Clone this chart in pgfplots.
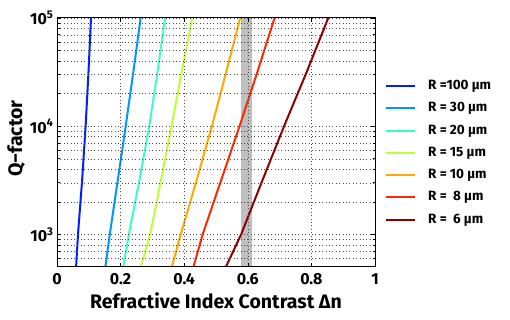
\documentclass[border=0pt]{standalone}
\usepackage{fontspec}
\setmainfont{Fira Sans}
\usepackage{pgfplots}
\pgfplotsset{compat=1.18}
\definecolor{cA}{RGB}{0,30,255}
\definecolor{cB}{RGB}{0,150,255}
\definecolor{cC}{RGB}{60,255,200}
\definecolor{cD}{RGB}{190,255,60}
\definecolor{cE}{RGB}{255,170,0}
\definecolor{cF}{RGB}{255,40,0}
\definecolor{cG}{RGB}{140,0,0}
\begin{document}
\begin{tikzpicture}
\begin{axis}[
    name=ax, scale only axis, width=318pt, height=249pt, at={(0pt,0pt)}, anchor=south west,
    xmin=0, xmax=1, ymin=500, ymax=1e5, ymode=log,
    xtick={0,0.2,0.4,0.6,0.8,1}, xticklabels={0,0.2,0.4,0.6,0.8,1},
    ytick={1000,10000,100000},
    yticklabels={10\textsuperscript{3},10\textsuperscript{4},10\textsuperscript{5}},
    minor ytick={600,700,800,900,2000,3000,4000,5000,6000,7000,8000,9000,20000,30000,40000,50000,60000,70000,80000,90000},
    grid=both,
    major grid style={black!70, line width=0.5pt, dash pattern=on 0.8pt off 2.6pt},
    minor grid style={black!70, line width=0.5pt, dash pattern=on 0.8pt off 2.6pt},
    tick align=inside, major tick length=4pt, minor tick length=2.5pt,
    tick style={black, line width=0.6pt},
    axis line style={line width=1pt},
    axis on top,
    tick label style={font=\fontsize{16}{16}\selectfont\bfseries},
    xticklabel style={yshift=-3pt},
    xlabel={Refractive Index Contrast Δn},
    ylabel={Q−factor},
    label style={font=\fontsize{19.5}{20}\selectfont\bfseries},
    xlabel style={yshift=-1pt},
    ylabel style={yshift=-2pt, xshift=4pt},
    every axis plot/.append style={line width=2pt, line join=round},
    legend cell align=left,
    legend style={draw=none, fill=none, inner sep=0pt, at={(1.03,0.754)}, anchor=north west,
        font=\fontsize{13.5}{13.5}\selectfont\bfseries,
        nodes={inner sep=0pt, text height=10pt, text depth=3pt},
        row sep=9.3pt,
        /tikz/every odd column/.append style={column sep=12.5pt}},
    legend image code/.code={\draw[#1] (0pt,0pt) -- (29pt,0pt);},
]
\addplot[fill=black!25, draw=none, forget plot] coordinates {(0.580,500) (0.580,100000) (0.612,100000) (0.612,500)} -- cycle;
\addplot[cA] coordinates {(0.060,500) (0.066,1000) (0.079,3162) (0.090,10000) (0.099,31623) (0.107,100000)};
\addlegendentry{R =100 µm}
\addplot[cB] coordinates {(0.152,500) (0.166,1000) (0.191,3162) (0.216,10000) (0.240,31623) (0.263,100000)};
\addlegendentry{R = 30 µm}
\addplot[cC] coordinates {(0.208,500) (0.226,1000) (0.259,3162) (0.290,10000) (0.316,31623) (0.340,100000)};
\addlegendentry{R = 20 µm}
\addplot[cD] coordinates {(0.263,500) (0.293,1000) (0.327,3162) (0.360,10000) (0.392,31623) (0.425,100000)};
\addlegendentry{R = 15 µm}
\addplot[cE] coordinates {(0.361,500) (0.389,1000) (0.439,3162) (0.487,10000) (0.532,31623) (0.576,100000)};
\addlegendentry{R = 10 µm}
\addplot[cF] coordinates {(0.429,500) (0.458,1000) (0.516,3162) (0.574,10000) (0.630,31623) (0.684,100000)};
\addlegendentry{R =\ \ 8 µm}
\addplot[cG] coordinates {(0.531,500) (0.579,1000) (0.646,3162) (0.714,10000) (0.785,31623) (0.853,100000)};
\addlegendentry{R =\ \ 6 µm}
\end{axis}
\pgfresetboundingbox
\path[use as bounding box] (-57pt,-53pt) rectangle (453pt,267pt);
\end{tikzpicture}
\end{document}
